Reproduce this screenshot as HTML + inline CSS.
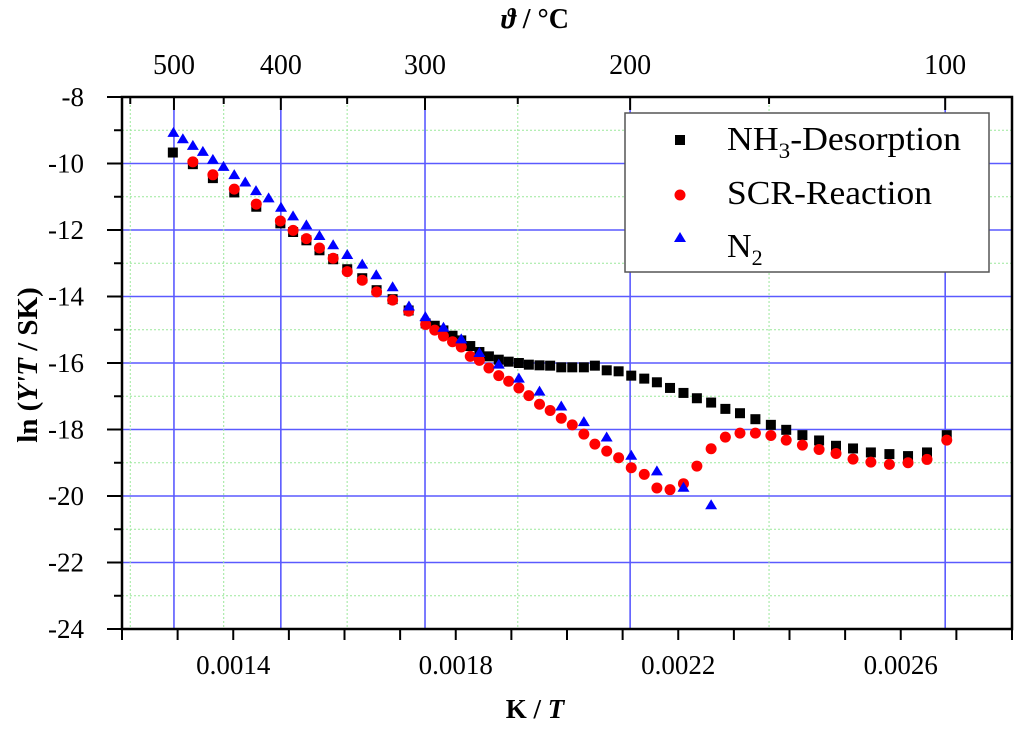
<!DOCTYPE html>
<html><head><meta charset="utf-8"><style>
html,body{margin:0;padding:0;background:#fff;}
svg{display:block;font-family:"Liberation Serif",serif;}
</style></head><body>
<svg id="chart" width="1024" height="729" viewBox="0 0 1024 729" xmlns="http://www.w3.org/2000/svg">
<g id="grid"></g>
<g id="axes"></g>
<g id="marks"></g>
<g>
<rect x="625" y="113" width="364" height="159" fill="#fff" stroke="#555" stroke-width="1.5"/>
<g>
<rect x="675" y="135" width="10" height="10" fill="#000"/>
<text x="727" y="150" font-size="34" textLength="234" lengthAdjust="spacingAndGlyphs">NH<tspan font-size="22" dy="8">3</tspan><tspan dy="-8">-Desorption</tspan></text>
</g>
<g>
<circle cx="680" cy="195" r="5.5" fill="#f00"/>
<text x="727" y="204" font-size="34" textLength="205" lengthAdjust="spacingAndGlyphs">SCR-Reaction</text>
</g>
<g>
<polygon points="680,232 686,242 674,242" fill="#00f"/>
<text x="727" y="257" font-size="34">N<tspan font-size="22" dy="8">2</tspan></text>
</g>
</g>
<text x="535" y="28" font-size="28" font-weight="bold" text-anchor="middle"><tspan font-style="italic">ϑ</tspan> / °C</text>
<text x="535" y="718" font-size="27" font-weight="bold" text-anchor="middle">K / <tspan font-style="italic">T</tspan></text>
<text transform="translate(37,365) rotate(-90)" font-size="29" font-weight="bold" text-anchor="middle">ln (<tspan font-style="italic">Y'T</tspan> / SK)</text>
</svg>
<script>
const xTicks = [0.0014, 0.0018, 0.0022, 0.0026];
const yTicks = [-8, -10, -12, -14, -16, -18, -20, -22, -24];
const topTempsMajor = [500, 400, 300, 200, 100];
const topTempsMinor = [550, 450, 350, 250, 150];

const xNH3 = [0.0012914,0.0013274,0.0013634,0.0014018,0.0014414,0.0014847,0.0015076,0.0015315,0.0015550,0.0015796,0.0016049,0.0016319,0.0016577,0.0016865,0.0017153,0.0017459,0.0017622,0.0017778,0.0017942,0.0018099,0.0018261,0.0018425,0.0018596,0.0018773,0.0018951,0.0019135,0.0019314,0.0019506,0.0019697,0.0019897,0.0020095,0.0020303,0.0020501,0.0020714,0.0020928,0.0021155,0.0021389,0.0021616,0.0021852,0.0022094,0.0022335,0.0022591,0.0022847,0.0023110,0.0023387,0.0023665,0.0023941,0.0024232,0.0024532,0.0024836,0.0025142,0.0025463,0.0025796,0.0026131,0.0026472,0.0026827];
const yNH3 = [-9.67,-10.02,-10.44,-10.87,-11.30,-11.80,-12.06,-12.31,-12.61,-12.88,-13.18,-13.45,-13.81,-14.08,-14.42,-14.81,-14.88,-15.02,-15.18,-15.32,-15.49,-15.67,-15.80,-15.90,-15.96,-16.00,-16.05,-16.07,-16.08,-16.13,-16.13,-16.13,-16.08,-16.22,-16.25,-16.38,-16.47,-16.58,-16.75,-16.90,-17.06,-17.19,-17.38,-17.51,-17.69,-17.86,-18.01,-18.17,-18.33,-18.49,-18.57,-18.69,-18.74,-18.80,-18.69,-18.17];

const xSCR = [0.0013274,0.0013634,0.0014018,0.0014414,0.0014847,0.0015076,0.0015315,0.0015550,0.0015796,0.0016049,0.0016319,0.0016577,0.0016865,0.0017153,0.0017459,0.0017622,0.0017778,0.0017942,0.0018099,0.0018261,0.0018425,0.0018596,0.0018773,0.0018951,0.0019135,0.0019314,0.0019506,0.0019697,0.0019897,0.0020095,0.0020303,0.0020501,0.0020714,0.0020928,0.0021155,0.0021389,0.0021616,0.0021852,0.0022094,0.0022335,0.0022591,0.0022847,0.0023110,0.0023387,0.0023665,0.0023941,0.0024232,0.0024532,0.0024836,0.0025142,0.0025463,0.0025796,0.0026131,0.0026472,0.0026827];
const ySCR = [-9.95,-10.34,-10.77,-11.22,-11.73,-12.01,-12.26,-12.54,-12.85,-13.25,-13.51,-13.86,-14.11,-14.44,-14.84,-15.01,-15.19,-15.36,-15.52,-15.80,-15.92,-16.15,-16.38,-16.55,-16.75,-16.98,-17.24,-17.43,-17.66,-17.86,-18.14,-18.44,-18.65,-18.85,-19.15,-19.35,-19.76,-19.81,-19.63,-19.10,-18.58,-18.23,-18.11,-18.11,-18.18,-18.32,-18.47,-18.60,-18.72,-18.89,-18.98,-19.05,-19.00,-18.90,-18.32];

const xN2 = [0.0012924,0.0013094,0.0013274,0.0013454,0.0013634,0.0013825,0.0014018,0.0014216,0.0014409,0.0014636,0.0014859,0.0015075,0.0015315,0.0015550,0.0015796,0.0016049,0.0016319,0.0016571,0.0016865,0.0017159,0.0017454,0.0017779,0.0018099,0.0018425,0.0018773,0.0019135,0.0019506,0.0019897,0.0020303,0.0020713,0.0021155,0.0021616,0.0022094,0.0022591];
const yN2 = [-9.08,-9.27,-9.47,-9.65,-9.89,-10.10,-10.35,-10.57,-10.83,-11.05,-11.33,-11.59,-11.86,-12.18,-12.46,-12.75,-13.04,-13.36,-13.72,-14.30,-14.62,-14.94,-15.29,-15.70,-16.05,-16.47,-16.86,-17.31,-17.78,-18.24,-18.79,-19.26,-19.75,-20.28];

const X0=122, X1=1012, Y0=97, Y1=629;
const xMin=0.0012, xMax=0.0028, yMin=-24, yMax=-8;
function sx(v){return X0+(v-xMin)/(xMax-xMin)*(X1-X0);}
function sy(v){return Y1-(v-yMin)/(yMax-yMin)*(Y1-Y0);}
function tx(c){return sx(1/(c+273.15));}
const NS="http://www.w3.org/2000/svg";
function mk(tag,attrs,parent){const e=document.createElementNS(NS,tag);for(const k in attrs)e.setAttribute(k,attrs[k]);parent.appendChild(e);return e;}
const grid=document.getElementById('grid'), axes=document.getElementById('axes'), marks=document.getElementById('marks');

for(let v=-23; v<=-9; v++){
  const even = v%2===0;
  const l=mk('line',{x1:X0,x2:X1,y1:sy(v),y2:sy(v),stroke:even?'#5a5aff':'#9be89b','stroke-width':even?1.6:1,'stroke-dasharray':even?'none':'2,2'},grid);
  
  
}
topTempsMinor.forEach(c=>{
  const l=mk('line',{x1:tx(c),x2:tx(c),y1:Y0,y2:Y1,stroke:'#9be89b','stroke-width':1,'stroke-dasharray':'2,2'},grid);
  
  
});
topTempsMajor.forEach(c=>{
  const l=mk('line',{x1:tx(c),x2:tx(c),y1:Y0,y2:Y1,stroke:'#5a5aff','stroke-width':1.6},grid);
  
  
});
const fr=mk('rect',{x:X0,y:Y0,width:X1-X0,height:Y1-Y0,fill:'none',stroke:'#000','stroke-width':2.5},axes);


for(let i=0;i<=16;i++){
  const v=xMin+i*0.0001;
  const t=mk('line',{x1:sx(v),x2:sx(v),y1:Y1,y2:Y1+11,stroke:'#000','stroke-width':2},axes);
  
  
}
xTicks.forEach(v=>{
  const t=mk('text',{x:sx(v),y:674,'font-size':27,'text-anchor':'middle'},axes);
  t.textContent=v.toFixed(4);
  
  
});
for(let v=-24; v<=-8; v++){
  const even=v%2===0;
  const t=mk('line',{x1:X0-(even?15:8),x2:X0,y1:sy(v),y2:sy(v),stroke:'#000','stroke-width':2},axes);
  
  
}
yTicks.forEach(v=>{
  const t=mk('text',{x:84,y:sy(v)+9,'font-size':27,'text-anchor':'end'},axes);
  t.textContent=String(v);
  
  
});
topTempsMajor.forEach(c=>{
  const t=mk('line',{x1:tx(c),x2:tx(c),y1:Y0,y2:Y0+13,stroke:'#000','stroke-width':2},axes);
  
  
  const l=mk('text',{x:tx(c),y:74,'font-size':28,'text-anchor':'middle'},axes);
  l.textContent=String(c);
  
  
});
topTempsMinor.forEach(c=>{
  const t=mk('line',{x1:tx(c),x2:tx(c),y1:Y0,y2:Y0+7,stroke:'#000','stroke-width':2},axes);
  
  
});
xNH3.forEach((v,i)=>{
  const m=mk('rect',{x:sx(v)-5,y:sy(yNH3[i])-5,width:10,height:10,fill:'#000'},marks);
  
  
});
xSCR.forEach((v,i)=>{
  const m=mk('circle',{cx:sx(v),cy:sy(ySCR[i]),r:5.5,fill:'#f00'},marks);
  
  
});
xN2.forEach((v,i)=>{
  const x=sx(v), y=sy(yN2[i]);
  const m=mk('polygon',{points:`${x},${y-6} ${x+6},${y+4} ${x-6},${y+4}`,fill:'#00f'},marks);
  
  
});
</script>
</body></html>
